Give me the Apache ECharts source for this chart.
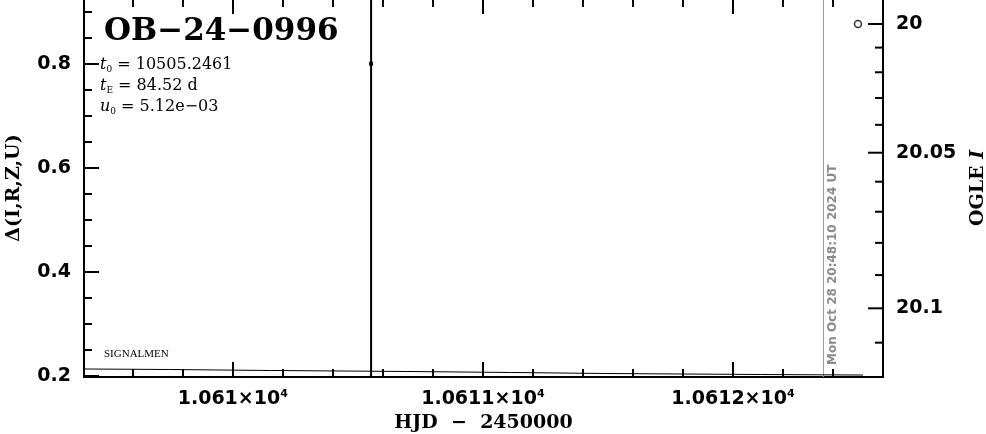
<!DOCTYPE html>
<html><head><meta charset="utf-8">
<script src="https://cdn.jsdelivr.net/npm/echarts@6/dist/echarts.min.js"></script>
<style>html,body{margin:0;padding:0;background:#fff}#c{width:986px;height:434px}</style>
</head><body><div id="c"></div>
<script>
// ---------- data ----------
const eventName = 'OB\u221224\u22120996';
const paramNames = ['0', 'E', '0'];
const paramSymbols = ['t', 't', 'u'];
const paramValues = [' = 10505.2461', ' = 84.52 d', ' = 5.12e\u221203'];
const siteLabel = 'SIGNALMEN';

const xMajorTicks = [10610, 10611, 10612];
const xMinorTicks = [10609.6, 10609.8, 10610.0, 10610.2, 10610.4, 10610.6, 10610.8, 10611.0, 10611.2, 10611.4, 10611.6, 10611.8, 10612.0, 10612.2, 10612.4];
const yMajorTicks = [0.2, 0.4, 0.6, 0.8];
const yMinorTicks = [0.25, 0.3, 0.35, 0.45, 0.5, 0.55, 0.65, 0.7, 0.75, 0.85, 0.9];
const magTicks = [20.00, 20.01, 20.02, 20.03, 20.04, 20.05, 20.06, 20.07, 20.08, 20.09, 20.10, 20.11];
const magMajorTicks = [20.00, 20.05, 20.10];
const magMajorLabels = ['20', '20.05', '20.1'];

// model curve (HJD - 2450000, Delta)
const modelHJD = [10609.405, 10609.75, 10610.15, 10610.70, 10611.11, 10611.50, 10612.11, 10612.52];
const modelDelta = [0.2129, 0.2119, 0.2100, 0.2081, 0.2062, 0.2042, 0.2023, 0.2013];

// observed point with error bar
const obsHJD = [10610.553];
const obsDelta = [0.80];
const obsErr = [0.75];

// OGLE I point
const ogleHJD = [10612.50];
const ogleMag = [20.00];

const dateLineHJD = 10612.362;
const dateText = 'Mon Oct 28 20:48:10 2024 UT';

// ---------- scales ----------
const xMin = 10609.405, xMax = 10612.6;
const yMin = 0.1975, yMax = 0.9244;
// OGLE I magnitude -> Delta (right axis is non-linear with respect to the left one)
function magToDelta(m) { const d = m - 20; return 0.8763 - 4.4327 * d - 10.346 * d * d; }

const labelFont = { fontFamily: 'DejaVu Sans', fontWeight: 'bold', fontSize: 19, color: '#000' };
const nameFont = { fontFamily: 'DejaVu Serif', fontWeight: 'bold', fontSize: 19, color: '#000' };

function xAxisDef(pos, ticks, len, labels) {
  return {
    type: 'value', min: xMin, max: xMax, position: pos,
    axisLine: { show: true, onZero: false, lineStyle: { color: '#000', width: 2 } },
    axisTick: { show: true, inside: true, length: len, customValues: ticks, lineStyle: { color: '#000', width: 2 } },
    axisLabel: labels ? {
      show: true, customValues: ticks, margin: 12,
      formatter: v => '{b|' + (v / 1e4) + '\u00d710}{s|4}',
      rich: { b: Object.assign({}, labelFont, { lineHeight: 20 }), s: { fontFamily: 'DejaVu Sans', fontWeight: 'bold', fontSize: 11, verticalAlign: 'top', lineHeight: 20, color: '#000' } }
    } : { show: false },
    splitLine: { show: false }
  };
}
function yAxisDef(ticks, len, labels) {
  return {
    type: 'value', min: yMin, max: yMax, position: 'left',
    axisLine: { show: true, onZero: false, lineStyle: { color: '#000', width: 2 } },
    axisTick: { show: true, inside: true, length: len, customValues: ticks, lineStyle: { color: '#000', width: 2 } },
    axisLabel: labels ? Object.assign({ show: true, customValues: ticks, margin: 13, formatter: v => v.toFixed(1) }, labelFont) : { show: false },
    splitLine: { show: false }
  };
}

const xAxes = [xAxisDef('bottom', xMajorTicks, 15, true), xAxisDef('bottom', xMinorTicks, 8, false),
               xAxisDef('top', xMajorTicks, 15, false), xAxisDef('top', xMinorTicks, 8, false)];
xAxes[0].name = 'HJD  \u2212  2450000';
xAxes[0].nameLocation = 'middle';
xAxes[0].nameGap = 27;
xAxes[0].nameTextStyle = nameFont;

const yAxes = [yAxisDef(yMajorTicks, 15, true), yAxisDef(yMinorTicks, 8, false), {
  type: 'value', min: yMin, max: yMax, position: 'right',
  axisLine: { show: true, onZero: false, lineStyle: { color: '#000', width: 2 } },
  axisTick: { show: false }, axisLabel: { show: false }, splitLine: { show: false },
  name: '{n|OGLE }{i|I}', nameLocation: 'middle', nameRotate: 90, nameGap: 86,
  nameTextStyle: { rich: { n: nameFont, i: Object.assign({}, nameFont, { fontStyle: 'italic' }) } }
}];
yAxes[0].name = '\u0394(I,R,Z,U)';
yAxes[0].nameLocation = 'middle';
yAxes[0].nameRotate = 90;
yAxes[0].nameGap = 60;
yAxes[0].nameTextStyle = nameFont;

const chart = echarts.init(document.getElementById('c'), null, { renderer: 'canvas' });

const paramRich = {
  i: { fontFamily: 'DejaVu Serif', fontStyle: 'italic', fontSize: 16, color: '#000', lineHeight: 18 },
  s: { fontFamily: 'DejaVu Serif', fontSize: 9, color: '#000', verticalAlign: 'bottom', lineHeight: 14 },
  n: { fontFamily: 'DejaVu Serif', fontSize: 16, color: '#000', lineHeight: 18 }
};
const paramGraphics = paramValues.map((v, k) => ({
  type: 'text', left: 100, top: 57 + k * 21,
  style: { text: '{i|' + paramSymbols[k] + '}{s|' + paramNames[k] + '}{n|' + v + '}', rich: paramRich }
}));

chart.setOption({
  animation: false,
  backgroundColor: '#fff',
  grid: { left: 84, right: 103, top: -1, bottom: 57, containLabel: false, outerBoundsMode: 'none' },
  xAxis: xAxes,
  yAxis: yAxes,
  graphic: [
    { type: 'text', left: 104, top: 16, style: { text: eventName, fontFamily: 'DejaVu Serif', fontWeight: 'bold', fontSize: 31, fill: '#000' } },
    ...paramGraphics,
    { type: 'text', left: 104, top: 349, style: { text: siteLabel, fontFamily: 'Liberation Serif', fontSize: 11, fill: '#000' } }
  ],
  series: [
    {
      type: 'line', xAxisIndex: 0, yAxisIndex: 0, showSymbol: false, silent: true,
      lineStyle: { color: '#000', width: 1 },
      data: modelHJD.map((x, i) => [x, modelDelta[i]])
    },
    {
      type: 'custom', xAxisIndex: 0, yAxisIndex: 0, clip: true, silent: true,
      data: obsHJD.map((x, i) => [x, obsDelta[i], obsErr[i]]),
      renderItem: (params, api) => {
        const x = api.value(0), y = api.value(1), e = api.value(2);
        const lo = api.coord([x, y - e]), hi = api.coord([x, y + e]), c = api.coord([x, y]);
        return { type: 'group', children: [
          { type: 'line', shape: { x1: lo[0], y1: lo[1], x2: hi[0], y2: hi[1] }, style: { stroke: '#000', lineWidth: 2 } },
          { type: 'rect', shape: { x: c[0] - 2, y: c[1] - 2, width: 4, height: 4 }, style: { fill: '#000' } }
        ] };
      }
    },
    {
      type: 'scatter', xAxisIndex: 0, yAxisIndex: 0, silent: true,
      symbol: 'circle', symbolSize: 7,
      itemStyle: { color: '#fff', borderColor: '#000', borderWidth: 1.5 },
      data: ogleHJD.map((x, i) => [x, magToDelta(ogleMag[i])])
    },
    {
      type: 'custom', xAxisIndex: 0, yAxisIndex: 0, clip: false, silent: true,
      data: [[dateLineHJD]],
      renderItem: (params, api) => {
        const x = api.value(0);
        const b = api.coord([x, yMin]), t = api.coord([x, yMax]);
        return { type: 'group', children: [
          { type: 'line', shape: { x1: b[0], y1: b[1], x2: t[0], y2: t[1] }, style: { stroke: '#a0a0a0', lineWidth: 1 } },
          { type: 'text', x: b[0] + 9, y: b[1] - 12, rotation: Math.PI / 2,
            style: { text: dateText, fontFamily: 'DejaVu Sans', fontWeight: 'bold', fontSize: 12, fill: '#8a8a8a', align: 'left', verticalAlign: 'middle' } }
        ] };
      }
    },
    {
      type: 'custom', xAxisIndex: 0, yAxisIndex: 0, clip: false, silent: true,
      data: magTicks.map(m => [m]),
      renderItem: (params, api) => {
        const m = api.value(0);
        const p = api.coord([xMax, magToDelta(m)]);
        const k = magMajorTicks.findIndex(v => Math.abs(v - m) < 1e-6);
        const len = k >= 0 ? 15 : 8;
        const ch = [{ type: 'line', shape: { x1: p[0] - len, y1: p[1], x2: p[0], y2: p[1] }, style: { stroke: '#000', lineWidth: 2 } }];
        if (k >= 0) ch.push({ type: 'text', x: p[0] + 13, y: p[1], style: Object.assign({ text: magMajorLabels[k], align: 'left', verticalAlign: 'middle', fill: '#000' }, { fontFamily: 'DejaVu Sans', fontWeight: 'bold', fontSize: 19 }) });
        return { type: 'group', children: ch };
      }
    }
  ]
});
</script></body></html>
